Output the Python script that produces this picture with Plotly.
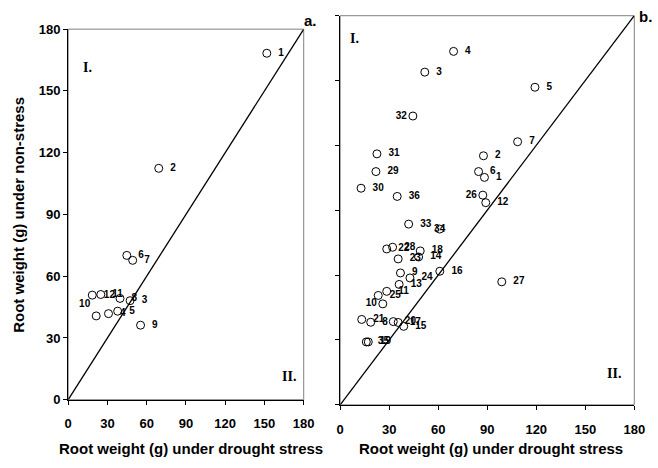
import plotly.graph_objects as go

# ---------------- data ----------------
tick_vals = [0, 30, 60, 90, 120, 150, 180]
diag = [0, 180]

a_labels = [str(i) for i in range(1, 13)]
a_drought = [151.8, 69.2, 47.3, 30.8, 37.8, 44.8, 49.3, 39.6, 55.3, 21.4, 24.9, 18.4]
a_nonstress = [168.3, 112.4, 48.1, 41.8, 43.0, 70.1, 67.7, 49.2, 36.2, 40.7, 51.1, 50.8]

b_labels = [str(i) for i in range(1, 37)]
b_drought = [88.3, 87.7, 51.8, 69.4, 119.2, 84.7, 108.6, 18.7, 36.9, 26.1,
             28.5, 89.1, 36.1, 48.0, 38.9, 61.0, 35.5, 49.0, 17.2, 32.5,
             13.2, 28.5, 35.5, 42.7, 23.3, 87.3, 98.9, 32.1, 21.9, 12.8,
             22.5, 44.5, 41.9, 60.9, 16.0, 34.9]
b_nonstress = [105.2, 115.2, 153.9, 163.5, 146.9, 107.9, 121.7, 38.2, 61.0, 46.7,
               52.5, 93.5, 55.7, 68.4, 36.3, 61.8, 38.1, 71.2, 29.1, 38.5,
               39.5, 72.1, 67.5, 58.7, 50.6, 97.0, 56.9, 72.9, 107.9, 100.2,
               116.1, 133.6, 83.6, 81.3, 29.1, 96.4]

x_title = "Root weight (g) under drought stress"
y_title = "Root weight (g) under non-stress"

# ---------------- style ----------------
SANS = "Liberation Sans, Arial, sans-serif"
SERIF = "Liberation Serif, Times New Roman, serif"
W, H = 658, 468

a_pos_override = {"10": "top left"}
b_pos_override = {"10": "middle left", "26": "middle left", "32": "middle left",
                  "34": "middle center"}


def label_info(labels, overrides):
    pos, txt = [], []
    for lab in labels:
        p = overrides.get(lab, "middle right")
        pos.append(p)
        txt.append("  " + lab if p == "middle right" else lab)
    return txt, pos


fig = go.Figure()

for xa, ya in (("x", "y"), ("x2", "y2")):
    fig.add_trace(go.Scatter(x=diag, y=diag, mode="lines", xaxis=xa, yaxis=ya,
                             line=dict(color="black", width=1.3),
                             hoverinfo="skip", showlegend=False))

a_txt, a_pos = label_info(a_labels, a_pos_override)
fig.add_trace(go.Scatter(x=a_drought, y=a_nonstress, mode="markers+text",
                         text=a_txt, textposition=a_pos, xaxis="x", yaxis="y",
                         textfont=dict(family=SANS, size=10, color="black", weight="bold"),
                         marker=dict(symbol="circle-open", size=8, color="black",
                                     line=dict(width=1, color="black")),
                         showlegend=False))

b_txt, b_pos = label_info(b_labels, b_pos_override)
fig.add_trace(go.Scatter(x=b_drought, y=b_nonstress, mode="markers+text",
                         text=b_txt, textposition=b_pos, xaxis="x2", yaxis="y2",
                         textfont=dict(family=SANS, size=10, color="black", weight="bold"),
                         marker=dict(symbol="circle-open", size=8, color="black",
                                     line=dict(width=1, color="black")),
                         showlegend=False))

axis_common = dict(range=[0, 180], tickmode="array", tickvals=tick_vals,
                   showline=True, linecolor="black", linewidth=1.2,
                   ticks="outside", ticklen=4, tickwidth=1, tickcolor="black",
                   showgrid=False, zeroline=False, fixedrange=True,
                   tickfont=dict(family=SANS, size=13, color="black", weight="bold"))


def px_x(p):
    return p / W


def px_y(p):
    return 1 - p / H


fig.update_layout(
    width=W, height=H, margin=dict(l=0, r=0, t=0, b=0),
    paper_bgcolor="white", plot_bgcolor="white", showlegend=False,
    xaxis=dict(domain=[px_x(65.7), px_x(306.7)], anchor="y", ticklabelstandoff=8, **axis_common),
    yaxis=dict(domain=[px_y(405.7), px_y(22.9)], anchor="x", **axis_common),
    xaxis2=dict(domain=[px_x(344), px_x(645)], anchor="y2", ticklabelstandoff=8, **axis_common),
    yaxis2=dict(domain=[px_y(411), px_y(9)], anchor="x2", showticklabels=False,
                **{k: v for k, v in axis_common.items() if k != "tickfont"}),
)

for xr, yr in (("x domain", "y domain"), ("x2 domain", "y2 domain")):
    fig.add_shape(type="rect", xref=xr, yref=yr, x0=0, x1=1, y0=0, y1=1,
                  line=dict(color="#808080", width=1), layer="below")

ann_font = dict(family=SANS, size=15, color="black", weight="bold")
roman_font = dict(family=SERIF, size=14, color="black", weight="bold")
annotations = [
    dict(text=x_title, x=px_x(191), y=px_y(456), font=ann_font),
    dict(text=x_title, x=px_x(498), y=px_y(456), font=ann_font),
    dict(text=y_title, x=px_x(14), y=px_y(215), font=ann_font, textangle=-90),
    dict(text="a.", x=px_x(313.5), y=px_y(14), font=ann_font),
    dict(text="b.", x=px_x(648), y=px_y(10), font=ann_font, xanchor="left"),
    dict(text="I.", x=px_x(85.5), y=px_y(63), font=roman_font),
    dict(text="I.", x=px_x(359), y=px_y(33), font=roman_font),
    dict(text="II.", x=px_x(291.5), y=px_y(382), font=roman_font),
    dict(text="II.", x=px_x(624.5), y=px_y(379), font=roman_font),
]
for a in annotations:
    a.setdefault("xanchor", "center")
    fig.add_annotation(xref="paper", yref="paper", yanchor="middle",
                       showarrow=False, **a)

fig.write_html("out.html",
               post_script="document.body.style.margin='0';document.body.style.padding='0';")
